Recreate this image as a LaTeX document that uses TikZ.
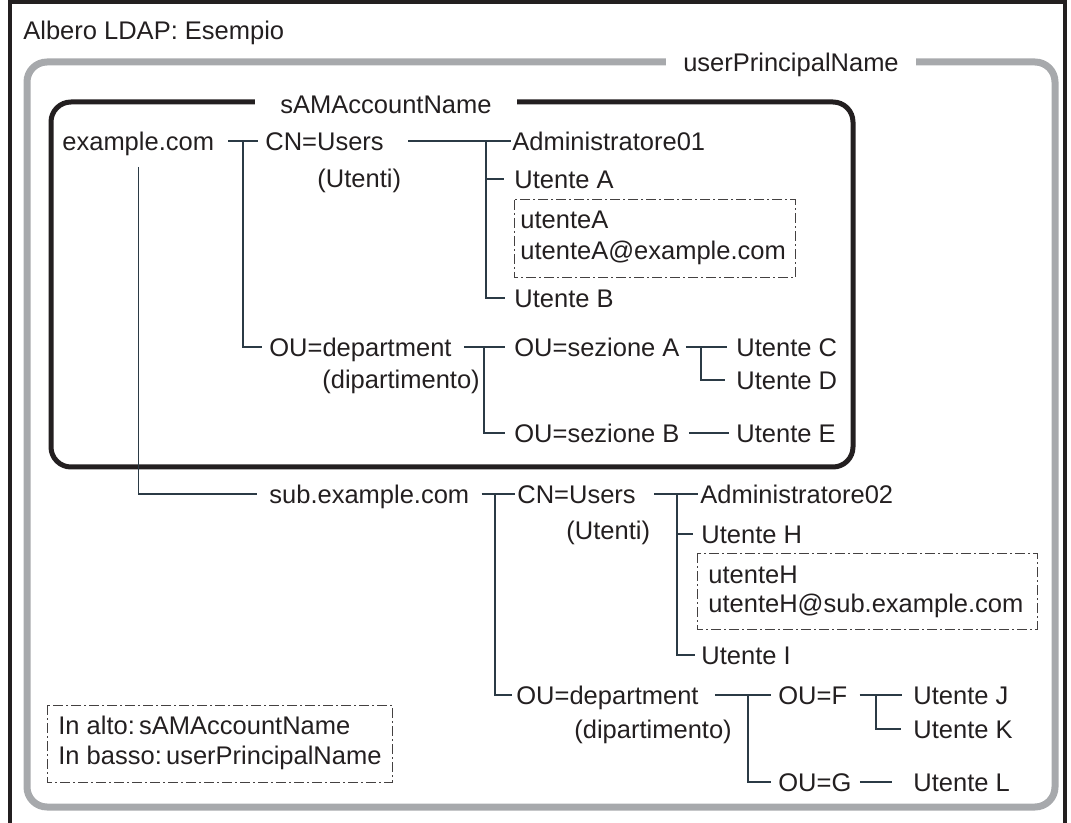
\documentclass[tikz,border=0pt]{standalone}
\usepackage{fontspec}
\setmainfont{Liberation Sans}
\usepackage{xcolor}
\definecolor{ink}{HTML}{231F20}
\definecolor{framegray}{HTML}{A7A9AC}
\definecolor{wirecol}{HTML}{2B3A45}

\begin{document}
\begin{tikzpicture}[x=0.5pt,y=-0.5pt,
  every node/.style={font=\fontsize{12.75}{15}\selectfont,text=ink},
  lbl/.style={anchor=west,inner sep=0pt,text height=9.1pt,text depth=0pt},
  tag/.style={fill=white,inner ysep=3pt,text height=9.1pt,text depth=0pt},
  wire/.style={draw=wirecol,line width=0.7pt},
  idbox/.style={draw=ink!85,line width=0.5pt,dash pattern=on 5pt off 1.5pt on 1pt off 1.5pt}]
\useasboundingbox (0,0) rectangle (1071,823);

% frames
\draw[ink,line width=2pt] (10,823) -- (10,2.5) -- (1065,2.5) -- (1065,823);
\node[lbl] (title) at (23,30) {Albero LDAP: Esempio};
\draw[framegray,line width=3.5pt,rounded corners=10pt] (27,62) rectangle (1055,807);
\node[tag,inner xsep=8.5pt] (upn) at (791,62) {userPrincipalName};
\draw[ink,line width=2.5pt,rounded corners=10pt] (51,102) rectangle (853,467);
\node[tag,inner xsep=12.5pt] (sam) at (386,104) {sAMAccountName};

% example.com
\node[lbl] (ex) at (62,141) {example.com};
\node[lbl] (cn1) at (265,141) {CN=Users};
\node[lbl] (cn1u) at (317,178) {(Utenti)};
\node[lbl] (adm1) at (512,141) {Administratore01};
\node[lbl] (ua) at (514,179) {Utente A};
\node[lbl] (idA1) at (520,219) {utenteA};
\node[lbl] (idA2) at (520,250) {utenteA@example.com};
\draw[idbox] (514,200) rectangle (795,278);
\node[lbl] (ub) at (514,298) {Utente B};
\node[lbl] (ou1) at (269,347) {OU=department};
\node[lbl] (ou1d) at (322,379) {(dipartimento)};
\node[lbl] (seA) at (514,347) {OU=sezione A};
\node[lbl] (seB) at (514,433) {OU=sezione B};
\node[lbl] (uc) at (736,347) {Utente C};
\node[lbl] (ud) at (736,380) {Utente D};
\node[lbl] (ue) at (736,433) {Utente E};

\coordinate (j1) at (243,141);
\coordinate (j2) at (486,141);
\coordinate (j3) at (484,347);
\coordinate (j4) at (701,347);
\draw[wire,shorten <=7pt,shorten >=3.5pt] (ex.east) -- (cn1.west);
\draw[wire,shorten >=3.5pt] (j1) |- (ou1.west);
\draw[wire,shorten <=12pt,shorten >=0.5pt] (cn1.east) -- (adm1.west);
\draw[wire,shorten >=5pt] (j2) |- (ua.west);
\draw[wire,shorten >=4.5pt] (j2) |- (ub.west);
\draw[wire,shorten <=6pt,shorten >=4.5pt] (ou1.east) -- (seA.west);
\draw[wire,shorten >=4.5pt] (j3) |- (seB.west);
\draw[wire,shorten <=3pt,shorten >=4.5pt] (seA.east) -- (uc.west);
\draw[wire,shorten >=5.5pt] (j4) |- (ud.west);
\draw[wire,shorten <=4.5pt,shorten >=3.5pt] (seB.east) -- (ue.west);

% sub.example.com
\node[lbl] (sub) at (269,494) {sub.example.com};
\node[lbl] (cn2) at (517,494) {CN=Users};
\node[lbl] (cn2u) at (566,530) {(Utenti)};
\node[lbl] (adm2) at (700,494) {Administratore02};
\node[lbl] (uh) at (701,534) {Utente H};
\node[lbl] (idH1) at (708,574) {utenteH};
\node[lbl] (idH2) at (708,603) {utenteH@sub.example.com};
\draw[idbox] (697,553) rectangle (1037,629);
\node[lbl] (ui) at (701,655) {Utente I};
\node[lbl] (ou2) at (516,695) {OU=department};
\node[lbl] (ou2d) at (574,729) {(dipartimento)};
\node[lbl] (ouF) at (778,695) {OU=F};
\node[lbl] (ouG) at (778,782) {OU=G};
\node[lbl] (uj) at (913,695) {Utente J};
\node[lbl] (uk) at (913,729) {Utente K};
\node[lbl] (ul) at (913,782) {Utente L};

\coordinate (j5) at (495,494);
\coordinate (j6) at (677,494);
\coordinate (j7) at (748,695);
\coordinate (j8) at (876,695);
\draw[wire,shorten >=6pt] ([yshift=-13pt]ex.center) |- (sub.west);
\draw[wire,shorten <=6pt,shorten >=1pt] (sub.east) -- (cn2.west);
\draw[wire,shorten >=2pt] (j5) |- (ou2.west);
\draw[wire,shorten <=9pt,shorten >=1pt] (cn2.east) -- (adm2.west);
\draw[wire,shorten >=4pt] (j6) |- (uh.west);
\draw[wire,shorten >=3pt] (j6) |- (ui.west);
\draw[wire,shorten <=8pt,shorten >=3.5pt] (ou2.east) -- (ouF.west);
\draw[wire,shorten >=3.5pt] (j7) |- (ouG.west);
\draw[wire,shorten <=6pt,shorten >=5.5pt] (ouF.east) -- (uj.west);
\draw[wire,shorten >=6pt] (j8) |- (uk.west);
\draw[wire,shorten <=4pt,shorten >=10.5pt] (ouG.east) -- (ul.west);

% legend
\node[lbl] (key1) at (58,725) {In alto:\,sAMAccountName};
\node[lbl] (key2) at (58,755) {In basso:\,userPrincipalName};
\draw[idbox] (47,705) rectangle (392,782);
\end{tikzpicture}
\end{document}
